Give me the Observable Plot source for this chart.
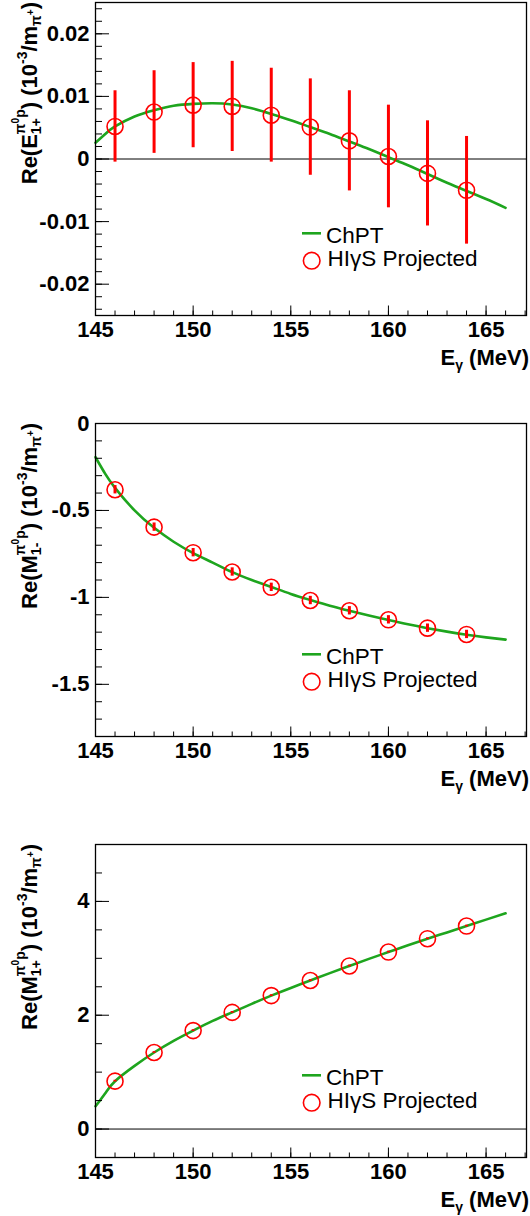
<!DOCTYPE html>
<html><head><meta charset="utf-8">
<script src="https://cdn.jsdelivr.net/npm/d3@7"></script>
<script src="https://cdn.jsdelivr.net/npm/@observablehq/plot@0.6"></script>
<style>
html,body{margin:0;padding:0;background:#fff;}
#wrap{position:relative;width:530px;height:1216px;overflow:hidden;background:#fff;}
#wrap svg{position:absolute;left:0;}
</style></head><body><div id="wrap"></div>
<script>
// ---- data ----
const energies = [146,148,150,152,154,156,158,160,162,164];
const curveE = [145,145.5,146,147,148,149,150,151,152,153,154,155,156,157,158,159,160,161,162,163,164,165,166];

const e1pValues = [0.0052,0.0075,0.0086,0.0084,0.0070,0.0051,0.0029,0.0004,-0.0023,-0.0050];
const e1pErrors = [0.0057,0.0066,0.0068,0.0072,0.0075,0.0077,0.0080,0.0082,0.0084,0.0086];
const e1pCurve  = [0.0026,0.0040,0.0052,0.0068,0.0078,0.0085,0.0088,0.0089,0.0087,0.0081,0.0072,0.0062,0.0051,0.0040,0.0028,0.0016,0.0003,-0.0010,-0.0024,-0.0038,-0.0051,-0.0064,-0.0078];

const m1mValues = [-0.381,-0.596,-0.743,-0.854,-0.942,-1.018,-1.077,-1.129,-1.177,-1.213];
const m1mErrors = [0.024,0.024,0.024,0.024,0.024,0.024,0.024,0.024,0.024,0.024];
const m1mCurve  = [-0.194,-0.29,-0.37,-0.50,-0.60,-0.68,-0.745,-0.80,-0.855,-0.90,-0.94,-0.98,-1.015,-1.048,-1.077,-1.104,-1.13,-1.155,-1.177,-1.197,-1.215,-1.23,-1.243];

const m1pValues = [0.842,1.345,1.73,2.05,2.345,2.61,2.866,3.11,3.345,3.567];
const m1pErrors = [0.015,0.015,0.015,0.015,0.015,0.015,0.015,0.015,0.015,0.015];
const m1pCurve  = [0.40,0.63,0.84,1.11,1.345,1.55,1.73,1.90,2.05,2.20,2.345,2.48,2.61,2.74,2.866,2.99,3.11,3.23,3.345,3.455,3.567,3.68,3.79];

const xTicks = [145,150,155,160,165];
const e1pTicks = [-0.02,-0.01,0,0.01,0.02];
const m1mTicks = [-1.5,-1,-0.5,0];
const m1pTicks = [0,2,4];

const legendLabels = ["ChPT","HIγS Projected"];

// ---- layout ----
const W = 530, ML = 95, MR = 4;
const GREEN = "#1ea51e", RED = "#ff0000";
const FONT = "'Liberation Sans', Arial, Helvetica, sans-serif";

function titlePieces(letter, sub) {
  return [["Re(" + letter,22,0],["π",14,-12,"supStart"],["0",10,-18],["p",14,-12],[sub,14,4,"sub"],[")",22,0,"after"],[" (10",22,0],["-3",14,-10],["/m",22,0],["π",14,4],["+",10,-3],[")",22,0]];
}

const panels = [
  {top:0, height:400, mt:2, mb:85, domain:[-0.025,0.025], ticks:e1pTicks,
   minor:d3.range(-24,25,2).map(v=>v/1000), values:e1pValues, errors:e1pErrors, curve:e1pCurve, zero:true,
   title:titlePieces("E","1+")},
  {top:400, height:410, mt:23, mb:74, domain:[-1.8,0], ticks:m1mTicks,
   minor:d3.range(-17,0,1).map(v=>v/10), values:m1mValues, errors:m1mErrors, curve:m1mCurve, zero:false,
   title:titlePieces("M","1-")},
  {top:810, height:406, mt:34, mb:59, domain:[-0.5,5], ticks:m1pTicks,
   minor:d3.range(-0.5,5.01,0.5), values:m1pValues, errors:m1pErrors, curve:m1pCurve, zero:true,
   title:titlePieces("M","1+")}
];

const xMinor = d3.range(145,168,1);

function richText(g, pieces) {
  let x = 0, supStart = 0, maxEnd = 0;
  for (const [t, size, shift, mode] of pieces) {
    if (mode === "supStart") supStart = x;
    if (mode === "sub") x = supStart;
    if (mode === "after") x = Math.max(x, maxEnd);
    const el = g.append("text").attr("x", x).attr("y", shift)
      .attr("font-size", size).attr("font-weight", "bold").attr("font-family", FONT)
      .attr("text-anchor", "start")
      .attr("fill", "black").style("white-space", "pre").text(t);
    const w = el.node().getComputedTextLength();
    x += w; maxEnd = Math.max(maxEnd, x);
  }
  return maxEnd;
}

const wrap = document.getElementById("wrap");
for (const p of panels) {
  const frameW = W - ML - MR, frameH = p.height - p.mt - p.mb;
  const pts = energies.map((x,i)=>({x, y:p.values[i], e:p.errors[i]}));
  const crv = curveE.map((x,i)=>({x, y:p.curve[i]}));
  const svg = Plot.plot({
    width: W, height: p.height, marginLeft: ML, marginRight: MR, marginTop: p.mt, marginBottom: p.mb,
    style: {fontFamily: FONT, fontSize: "22px", background: "white", overflow: "visible", color: "black"},
    x: {domain: [145, 167.07], label: null},
    y: {domain: p.domain, label: null},
    marks: [
      p.zero ? Plot.ruleY([0], {stroke: "black", strokeWidth: 1}) : null,
      Plot.line(crv, {x: "x", y: "y", stroke: GREEN, strokeWidth: 2.6, curve: "natural"}),
      Plot.ruleX(pts, {x: "x", y1: d=>d.y-d.e, y2: d=>d.y+d.e, stroke: RED, strokeWidth: 3}),
      Plot.dot(pts, {x: "x", y: "y", r: 8, stroke: RED, strokeWidth: 1.6, fill: "none"}),
      Plot.tickY(p.minor, {y: d=>d, stroke: "black", strokeWidth: 1, insetRight: frameW - 7}),
      Plot.tickY(p.ticks, {y: d=>d, stroke: "black", strokeWidth: 1, insetRight: frameW - 14}),
      Plot.tickX(xMinor, {x: d=>d, stroke: "black", strokeWidth: 1, insetTop: frameH - 4.5}),
      Plot.tickX(xTicks, {x: d=>d, stroke: "black", strokeWidth: 1, insetTop: frameH - 9.5}),
      Plot.axisY(p.ticks, {tickSize: 0, tickPadding: 6, tickFormat: d=>String(d), fontSize: 22, fontWeight: "bold", label: null}),
      Plot.axisX(xTicks, {tickSize: 0, tickPadding: 6, tickFormat: d=>String(d), fontSize: 22, fontWeight: "bold", label: null}),
      Plot.frame({stroke: "black", strokeWidth: 1.3})
    ]
  });
  svg.style.top = p.top + "px";
  wrap.appendChild(svg);
  const s = d3.select(svg);
  const fl = ML, ft = p.mt, fb = p.height - p.mb;

  // y title (rotated, right-aligned to frame top)
  const gy = s.append("g");
  const inner = gy.append("g");
  const tw = richText(inner, p.title);
  inner.attr("transform", `translate(${-tw},0)`);
  gy.attr("transform", `translate(36.7,${ft}) rotate(-90)`);

  // x title
  const gx = s.append("g");
  const ix = gx.append("g");
  const xw = richText(ix, [["E",22,0],["γ",14,5],[" (MeV)",22,0]]);
  gx.attr("transform", `translate(${529 - xw},${fb + 50})`);

  // legend
  const lg = s.append("g").attr("font-family", FONT).attr("font-size", 22.5).attr("text-anchor", "start");
  lg.append("line").attr("x1", fl + 207).attr("x2", fl + 226).attr("y1", ft + 231.3).attr("y2", ft + 231.3)
    .attr("stroke", GREEN).attr("stroke-width", 2.6);
  lg.append("text").attr("x", fl + 231).attr("y", ft + 241.3).attr("fill", "black").text(legendLabels[0]);
  lg.append("circle").attr("cx", fl + 216.7).attr("cy", ft + 258.7).attr("r", 8.3)
    .attr("fill", "none").attr("stroke", RED).attr("stroke-width", 1.6);
  lg.append("text").attr("x", fl + 232.5).attr("y", ft + 263.7).attr("fill", "black").text(legendLabels[1]);
}
</script></body></html>
